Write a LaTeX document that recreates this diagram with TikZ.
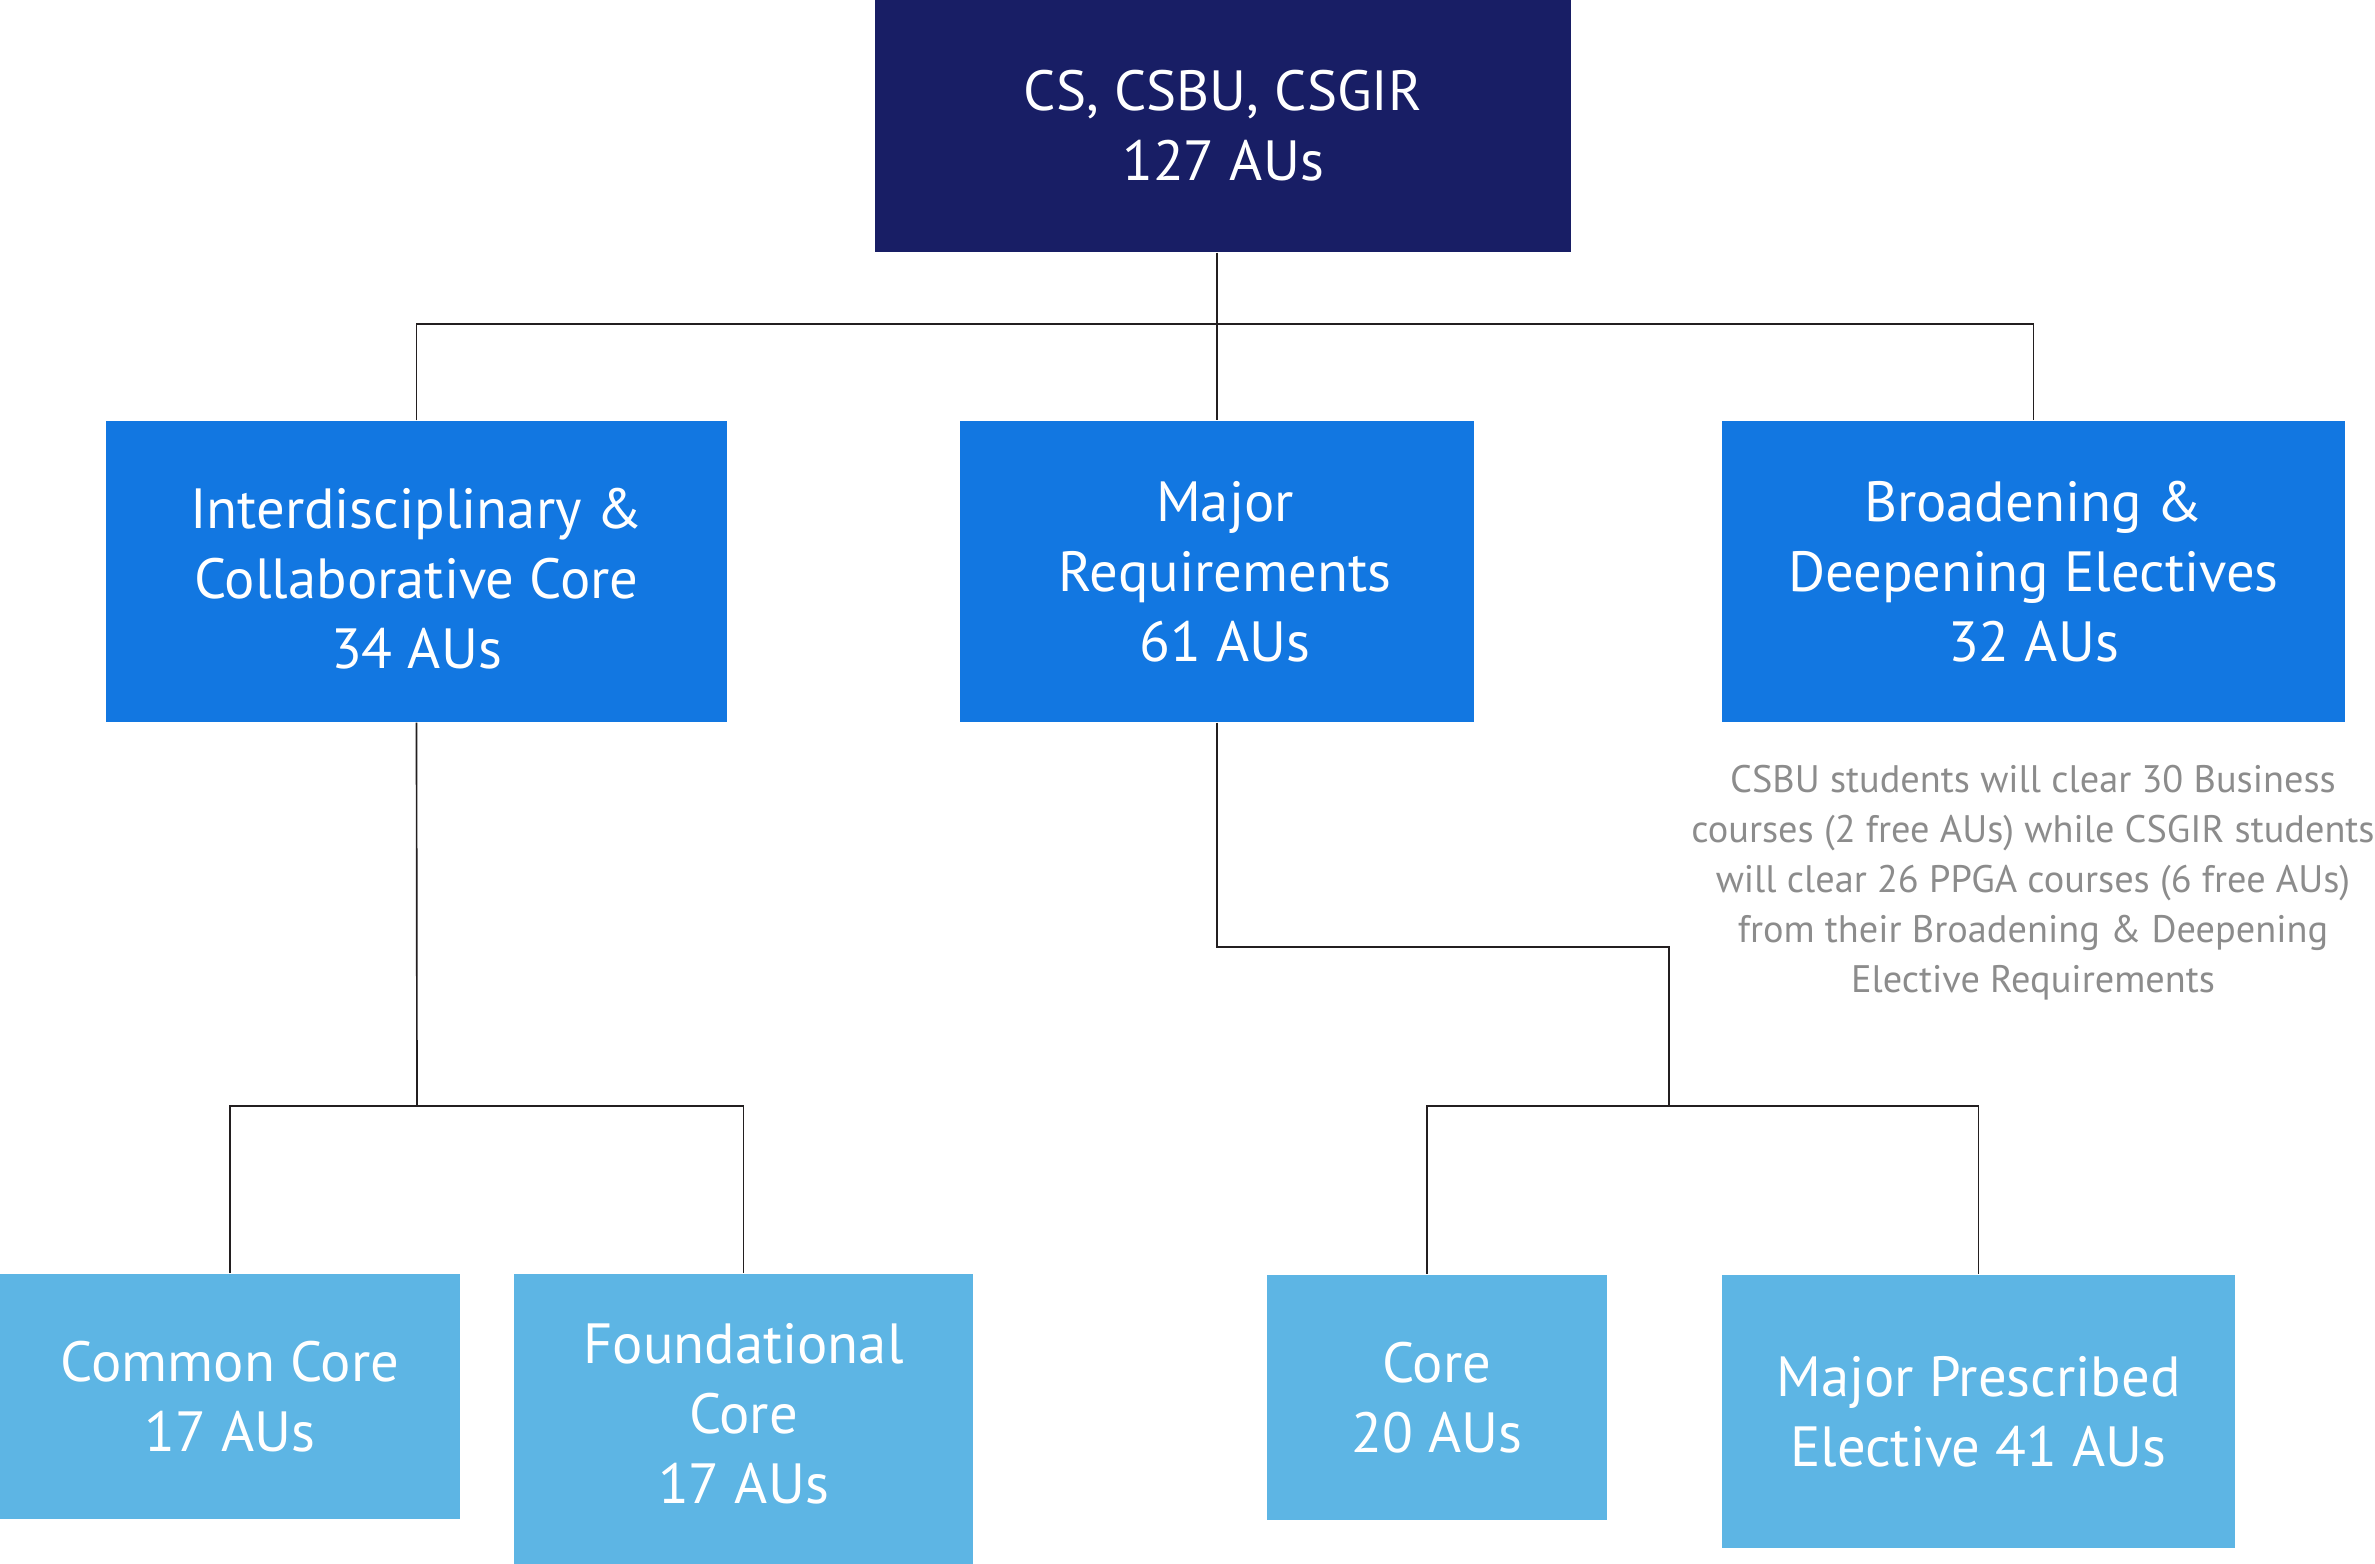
\documentclass[tikz,border=0pt]{standalone}
\usepackage{fontspec}
\setmainfont{PT Sans}
\definecolor{navy}{RGB}{24,30,101}
\definecolor{midblue}{RGB}{18,119,225}
\definecolor{lightblue}{RGB}{93,181,228}
\definecolor{notegray}{RGB}{140,140,140}
\definecolor{linegray}{RGB}{35,31,32}
\newcommand{\rsh}{\hspace*{4.8pt}}
\begin{document}
\begin{tikzpicture}[x=0.3pt,y=-0.3pt,
  box/.style={rectangle,inner sep=0pt,text=white,align=center,
    font=\fontsize{17}{21}\selectfont},
  topbox/.style={box,fill=navy},
  midbox/.style={box,fill=midblue},
  lowbox/.style={box,fill=lightblue},
  conn/.style={draw=linegray,line width=0.5pt},
  note/.style={text=notegray,align=center,inner sep=0pt,
    font=\fontsize{11.5}{15}\selectfont}]
\useasboundingbox (0,0) rectangle (2375,1564);
% boxes
\node[topbox,minimum width=208.8pt,minimum height=75.6pt] (top) at (1223,126) {CS, CSBU, CSGIR\\127 AUs};
\node[midbox,minimum width=186.3pt,minimum height=90.3pt] (icc) at (416.5,571.5) {\rule{0pt}{16.5pt}Interdisciplinary \&\\Collaborative Core\\34 AUs};
\node[midbox,minimum width=154.2pt,minimum height=90.3pt] (major) at (1217,571.5) {\rsh Major\\\rsh Requirements\\\rsh 61 AUs};
\node[midbox,minimum width=186.9pt,minimum height=90.3pt] (bde) at (2033.5,571.5) {Broadening \&\\Deepening Electives\\32 AUs};
\node[lowbox,minimum width=138pt,minimum height=73.5pt] (common) at (230,1396.5) {Common Core\\17 AUs};
\node[lowbox,minimum width=137.7pt,minimum height=87pt] (found) at (743.5,1419) {Foundational\\Core\\17 AUs\rule[-3.6pt]{0pt}{0pt}};
\node[lowbox,minimum width=102pt,minimum height=73.5pt] (core) at (1437,1397.5) {Core\\20 AUs};
\node[lowbox,minimum width=153.9pt,minimum height=81.9pt] (mpe) at (1978.5,1411.5) {Major Prescribed\\Elective 41 AUs};
\node[note,anchor=north] (bnote) at (2033,765) {CSBU students will clear 30 Business\\courses (2 free AUs) while CSGIR students\\will clear 26 PPGA courses (6 free AUs)\\from their Broadening \& Deepening\\Elective Requirements};
% junction coordinates
\coordinate (bus) at (1217,324);
\coordinate (lbus) at (417,1106);
\coordinate (mstep) at (1669,947);
\coordinate (rbus) at (1669,1106);
\coordinate (corein) at (1427,1274);
% connectors
\draw[conn] (top.south -| major.north) -- (major.north);
\draw[conn] (icc.north) -- (icc.north |- bus) -- (bde.north |- bus) -- (bde.north);
\draw[conn] (icc.south) -- (lbus);
\draw[conn] (common.north) -- (common.north |- lbus) -- (found.north |- lbus) -- (found.north);
\draw[conn] (major.south) -- (major.south |- mstep) -- (mstep) -- (rbus);
\draw[conn] (corein) -- (corein |- rbus) -- (mpe.north |- rbus) -- (mpe.north);
\end{tikzpicture}
\end{document}
